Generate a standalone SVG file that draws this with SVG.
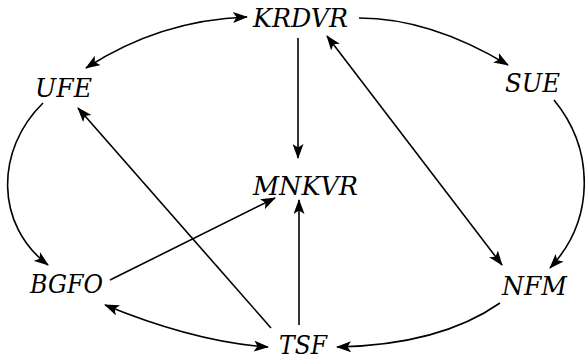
<svg xmlns="http://www.w3.org/2000/svg" width="585" height="364" viewBox="0 0 585 364">
<style>
text{font-family:'DejaVu Serif','Liberation Serif',serif;font-style:italic;font-size:26px;fill:#000;text-anchor:middle}
.e{fill:none;stroke:#000;stroke-width:1.6}
</style>
<defs>
<marker id="ah" markerUnits="userSpaceOnUse" markerWidth="15" markerHeight="11" refX="14" refY="5.5" orient="auto-start-reverse" viewBox="0 0 15 11">
<path d="M0,0 L15,5.5 L0,11 L3.5,5.5 Z" fill="#000"/>
</marker>
</defs>
<rect width="585" height="364" fill="#fff"/>
<g id="connectors">
<path class="e" d="M86,68 Q160,20 247,17" marker-start="url(#ah)" marker-end="url(#ah)"/>
<path class="e" d="M359,18 Q430,18 508,65" marker-end="url(#ah)"/>
<path class="e" d="M298,38 L298,158" marker-end="url(#ah)"/>
<path class="e" d="M327,36 L502,265" marker-start="url(#ah)" marker-end="url(#ah)"/>
<path class="e" d="M554,100 C595,150 595,220 550,268" marker-end="url(#ah)"/>
<path class="e" d="M43,103 C-5,150 -5,225 48,265" marker-end="url(#ah)"/>
<path class="e" d="M271,328 L78,108" marker-end="url(#ah)"/>
<path class="e" d="M110,280 L275,198" marker-end="url(#ah)"/>
<path class="e" d="M299,325 L299,200" marker-end="url(#ah)"/>
<path class="e" d="M105,305 Q195,342 268,347" marker-start="url(#ah)" marker-end="url(#ah)"/>
<path class="e" d="M500,303 Q440,345 337,347" marker-end="url(#ah)"/>
</g>
<g id="KRDVR"><text x="300.5" y="27" textLength="95" lengthAdjust="spacingAndGlyphs">KRDVR</text></g>
<g id="UFE"><text x="63.5" y="97" textLength="57" lengthAdjust="spacingAndGlyphs">UFE</text></g>
<g id="SUE"><text x="532.5" y="92" textLength="55" lengthAdjust="spacingAndGlyphs">SUE</text></g>
<g id="MNKVR"><text x="305.5" y="195" textLength="105" lengthAdjust="spacingAndGlyphs">MNKVR</text></g>
<g id="BGFO"><text x="66.5" y="293" textLength="73" lengthAdjust="spacingAndGlyphs">BGFO</text></g>
<g id="NFM"><text x="534.5" y="295" textLength="65" lengthAdjust="spacingAndGlyphs">NFM</text></g>
<g id="TSF"><text x="303" y="354" textLength="48" lengthAdjust="spacingAndGlyphs">TSF</text></g>
</svg>
